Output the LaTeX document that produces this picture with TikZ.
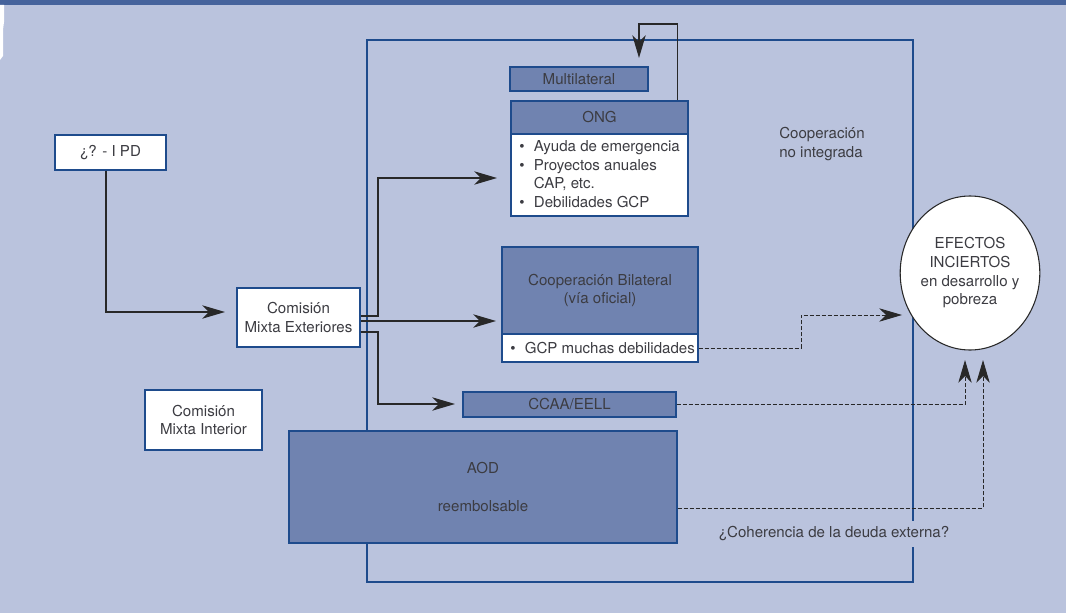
\documentclass[tikz,border=0pt]{standalone}
\usepackage{fontspec}
\setmainfont{TeX Gyre Heros}
\usetikzlibrary{arrows.meta,shapes.geometric}
\definecolor{bg}{RGB}{186,195,221}
\definecolor{topbar}{RGB}{70,99,156}
\definecolor{boxfill}{RGB}{112,131,176}
\definecolor{edge}{RGB}{30,75,140}
\definecolor{txt}{RGB}{60,60,66}
\definecolor{conn}{RGB}{40,40,40}
\begin{document}
\begin{tikzpicture}[x=0.75pt,y=-0.75pt,
 every node/.style={font=\fontsize{11.3}{14}\selectfont, text=txt},
 wbox/.style={draw=edge, line width=1pt, fill=white, inner sep=0pt, align=center},
 dbox/.style={draw=edge, line width=1pt, fill=boxfill, inner sep=0pt, align=center},
 arr/.style={draw=conn, line width=1.1pt, -{Stealth[length=17pt,width=10pt,inset=5pt]}},
 darr/.style={draw=conn, line width=0.7pt, dash pattern=on 3pt off 1.5pt, -{Stealth[length=17pt,width=10pt,inset=5pt]}},
 frame/.style={draw=edge, line width=1pt},
 plain/.style={inner sep=0pt}]
\useasboundingbox (0,0) rectangle (1066,613);
\fill[bg] (0,0) rectangle (1066,613);
\fill[topbar] (0,0) rectangle (1066,5);
\fill[white] (0,5) -- (4,5) -- (4,22) -- (3,30) -- (3,56) -- (0,60) -- cycle;
% outer frame: cooperacion no integrada
\draw[frame] (367,40) rectangle (913,582);
% boxes
\node[wbox, minimum width=83.25pt, minimum height=26.25pt] (ipd) at (110.5,152.5) {¿? - I PD};
\node[wbox, minimum width=92.25pt, minimum height=44.25pt] (cme) at (298.5,317.5) {Comisión\\Mixta Exteriores};
\node[wbox, minimum width=87.75pt, minimum height=45pt] (cmi) at (203.5,420) {Comisión\\Mixta Interior};
\node[dbox, minimum width=103.5pt, minimum height=18pt] (mul) at (579,79) {Multilateral};
\node[dbox, minimum width=132.75pt, minimum height=24.75pt] (ongh) at (599.5,117.5) {ONG};
\node[wbox, minimum width=132.75pt, minimum height=61.5pt] (ongb) at (599.5,175) {};
\node[plain, anchor=west, align=left] (ongt) at (519,174) {\textbullet\hspace{7pt}Ayuda de emergencia\\\textbullet\hspace{7pt}Proyectos anuales\\\phantom{\textbullet}\hspace{7pt}CAP, etc.\\\textbullet\hspace{7pt}Debilidades GCP};
\node[dbox, minimum width=147pt, minimum height=65.25pt] (bilh) at (600,290.5) {Cooperación Bilateral\\(vía oficial)};
\node[wbox, minimum width=147pt, minimum height=21pt] (bilb) at (600,348) {};
\node[plain, anchor=west] (bilt) at (510,348) {\textbullet\hspace{7pt}GCP muchas debilidades};
\node[dbox, minimum width=159.75pt, minimum height=18.75pt] (ccaa) at (569.5,404.5) {CCAA/EELL};
\node[dbox, minimum width=291pt, minimum height=84pt] (aod) at (483,487) {AOD\\[14.5pt]reembolsable};
\node[ellipse, draw=conn, line width=0.8pt, fill=white, minimum width=101.25pt, minimum height=115.5pt, inner sep=0pt, align=center] (eff) at (970,273) {EFECTOS\\INCIERTOS\\en desarrollo y\\pobreza};
\node[plain, anchor=west, align=left] (cni) at (779,144) {Cooperación\\no integrada};
\node[fill=bg, inner xsep=1pt, inner ysep=4pt] (coh) at (834,534) {¿Coherencia de la deuda externa?};
% connectors
\coordinate (t1) at (225,312);
\coordinate (bx) at (378,0);
\coordinate (t2) at (497,178);
\coordinate (t3) at (496,321);
\coordinate (t4) at (455,404);
\coordinate (fbtop) at (639,24);
\coordinate (fbtip) at (639,58);
\coordinate (k1) at (801,315);
\coordinate (e1) at (902,315);
\coordinate (e2) at (965,360);
\coordinate (e3) at (983,360);
\draw[arr] ([xshift=-3.4pt]ipd.south) |- (t1);
\draw[arr] ([yshift=1.1pt]cme.east) -| (bx |- t2) -- (t2);
\draw[arr] (cme.east |- t3) -- (t3);
\draw[arr] ([yshift=-10.9pt]cme.east) -| (bx |- t4) -- (t4);
\draw[arr] ([xshift=-8.25pt]ongh.north east) |- (fbtop) -- (fbtip);
\draw[darr] (bilb.east) -| (k1) -- (e1);
\draw[darr] (ccaa.east) -| (e2);
\draw[darr] ([yshift=-15.75pt]aod.east) -| (e3);
\end{tikzpicture}
\end{document}
